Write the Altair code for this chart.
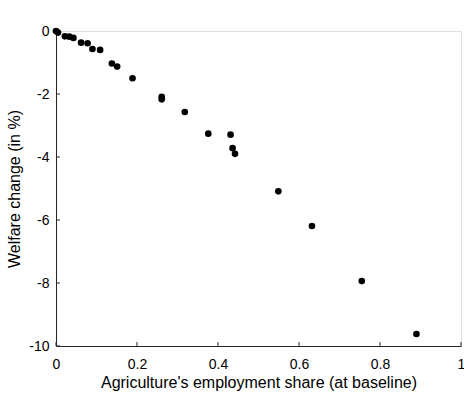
import altair as alt
import pandas as pd

share = [0.0, 0.005, 0.022, 0.033, 0.043, 0.062, 0.078, 0.090, 0.109, 0.138, 0.151,
         0.189, 0.261, 0.261, 0.318, 0.376, 0.431, 0.436, 0.442, 0.549, 0.632, 0.755, 0.890]
welfare = [0.0, -0.05, -0.17, -0.18, -0.22, -0.37, -0.39, -0.57, -0.60, -1.03, -1.13,
           -1.50, -2.09, -2.17, -2.57, -3.26, -3.29, -3.72, -3.90, -5.09, -6.19, -7.94, -9.62]
x_ticks = [0, 0.2, 0.4, 0.6, 0.8, 1]
y_ticks = [0, -2, -4, -6, -8, -10]

W, H = 405, 315
FONT = "Liberation Sans"
AX = "#262626"

df = pd.DataFrame({"share": share, "welfare": welfare})
xt = pd.DataFrame({"v": x_ticks})
yt = pd.DataFrame({"v": y_ticks})

xscale = alt.Scale(domain=[0, 1], nice=False, zero=False)
yscale = alt.Scale(domain=[-10, 0], nice=False, zero=False)

points = alt.Chart(df).mark_circle(size=44, color="black", opacity=1).encode(
    x=alt.X("share:Q", scale=xscale,
            axis=alt.Axis(values=x_ticks, title="Agriculture's employment share (at baseline)",
                          labelExpr="toString(datum.value)", ticks=False, grid=False,
                          labelFlush=False, labelOverlap=False,
                          domainColor=AX, labelColor="black", labelFontSize=14,
                          labelPadding=11, titleFontSize=16, titleFontWeight="normal",
                          titleColor="black", titlePadding=3, labelFont=FONT, titleFont=FONT)),
    y=alt.Y("welfare:Q", scale=yscale,
            axis=alt.Axis(values=y_ticks, title="Welfare change (in %)",
                          labelExpr="toString(datum.value)", ticks=False, grid=False,
                          labelFlush=False, labelOverlap=False,
                          domainColor=AX, labelColor="black", labelFontSize=14,
                          labelPadding=7, titleFontSize=16, titleFontWeight="normal",
                          titleColor="black", titlePadding=6, labelFont=FONT, titleFont=FONT)),
)

xticks = alt.Chart(xt).mark_rule(color=AX, strokeWidth=1).encode(
    x=alt.X("v:Q", scale=xscale), y=alt.value(H), y2=alt.value(H - 4))
yticks = alt.Chart(yt).mark_rule(color=AX, strokeWidth=1).encode(
    y=alt.Y("v:Q", scale=yscale), x=alt.value(0), x2=alt.value(4))

chart = alt.layer(xticks, yticks, points).properties(
    width=W, height=H,
    autosize=alt.AutoSizeParams(type="none"),
    padding={"left": 56, "top": 31, "right": 3, "bottom": 47},
).configure_view(stroke=None).configure(background="white")

chart.save("out.html", embed_options={"renderer": "svg", "actions": False})
